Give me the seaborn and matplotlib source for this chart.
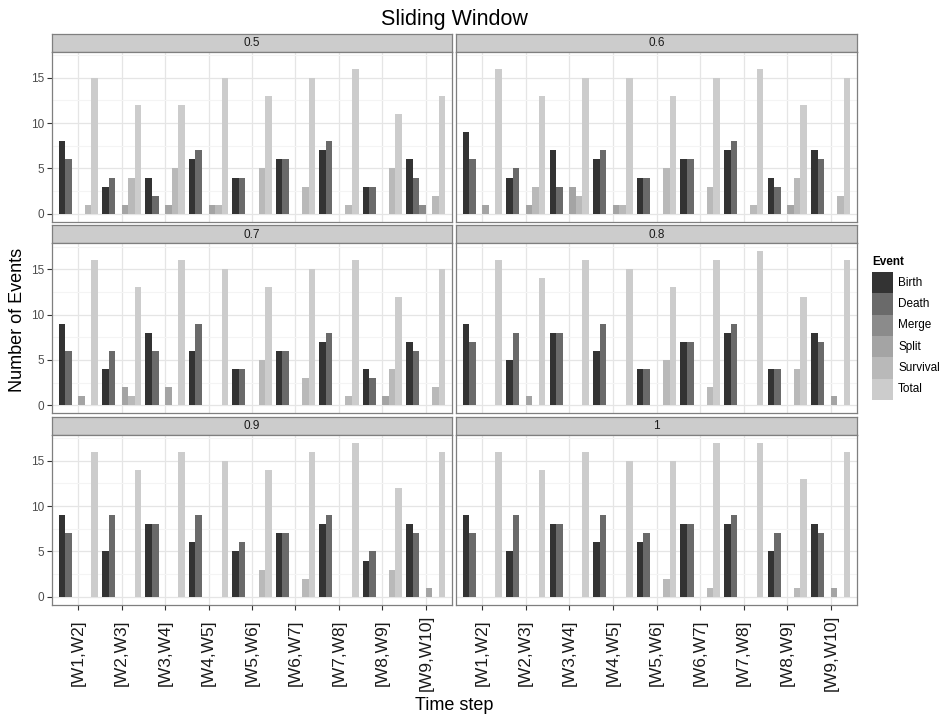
import matplotlib
matplotlib.use("Agg")
import matplotlib.pyplot as plt
from matplotlib.patches import Rectangle
from matplotlib.ticker import MultipleLocator
import numpy as np
import pandas as pd
import seaborn as sns

# ---- data -------------------------------------------------------------
thresholds = ["0.5", "0.6", "0.7", "0.8", "0.9", "1"]
windows = ["[W1,W2]", "[W2,W3]", "[W3,W4]", "[W4,W5]", "[W5,W6]",
           "[W6,W7]", "[W7,W8]", "[W8,W9]", "[W9,W10]"]
events = ["Birth", "Death", "Merge", "Split", "Survival", "Total"]

# one row per threshold, one column per time step
birth = [
    [8, 3, 4, 6, 4, 6, 7, 3, 6],
    [9, 4, 7, 6, 4, 6, 7, 4, 7],
    [9, 4, 8, 6, 4, 6, 7, 4, 7],
    [9, 5, 8, 6, 4, 7, 8, 4, 8],
    [9, 5, 8, 6, 5, 7, 8, 4, 8],
    [9, 5, 8, 6, 6, 8, 8, 5, 8],
]
death = [
    [6, 4, 2, 7, 4, 6, 8, 3, 4],
    [6, 5, 3, 7, 4, 6, 8, 3, 6],
    [6, 6, 6, 9, 4, 6, 8, 3, 6],
    [7, 8, 8, 9, 4, 7, 9, 4, 7],
    [7, 9, 8, 9, 6, 7, 9, 5, 7],
    [7, 9, 8, 9, 7, 8, 9, 7, 7],
]
merge = [
    [0, 0, 0, 0, 0, 0, 0, 0, 1],
    [0, 0, 0, 0, 0, 0, 0, 0, 0],
    [0, 0, 0, 0, 0, 0, 0, 0, 0],
    [0, 0, 0, 0, 0, 0, 0, 0, 0],
    [0, 0, 0, 0, 0, 0, 0, 0, 0],
    [0, 0, 0, 0, 0, 0, 0, 0, 0],
]
split = [
    [0, 1, 1, 1, 0, 0, 0, 0, 0],
    [1, 1, 3, 1, 0, 0, 0, 1, 0],
    [1, 2, 2, 0, 0, 0, 0, 1, 0],
    [0, 1, 0, 0, 0, 0, 0, 0, 1],
    [0, 0, 0, 0, 0, 0, 0, 0, 1],
    [0, 0, 0, 0, 0, 0, 0, 0, 1],
]
survival = [
    [1, 4, 5, 1, 5, 3, 1, 5, 2],
    [0, 3, 2, 1, 5, 3, 1, 4, 2],
    [0, 1, 0, 0, 5, 3, 1, 4, 2],
    [0, 0, 0, 0, 5, 2, 0, 4, 0],
    [0, 0, 0, 0, 3, 2, 0, 3, 0],
    [0, 0, 0, 0, 2, 1, 0, 1, 0],
]
total = [
    [15, 12, 12, 15, 13, 15, 16, 11, 13],
    [16, 13, 15, 15, 13, 15, 16, 12, 15],
    [16, 13, 16, 15, 13, 15, 16, 12, 15],
    [16, 14, 16, 15, 13, 16, 17, 12, 16],
    [16, 14, 16, 15, 14, 16, 17, 12, 16],
    [16, 14, 16, 15, 15, 17, 17, 13, 16],
]

# grey fill scale, dark to light
greys = ["#333333", "#6a6a6a", "#8b8b8b", "#a4a4a4", "#b9b9b9", "#cccccc"]

# ---- long table -------------------------------------------------------
series = dict(zip(events, [birth, death, merge, split, survival, total]))
rows = []
for ti, th in enumerate(thresholds):
    for ev in events:
        for wi, w in enumerate(windows):
            rows.append({"Threshold": th, "Time step": w, "Event": ev,
                         "Number of Events": series[ev][ti][wi]})
df = pd.DataFrame(rows)

# ---- figure -----------------------------------------------------------
sns.set_style("white")
plt.rcParams["font.family"] = ["Liberation Sans", "DejaVu Sans"]

W, H = 946, 722
fig = plt.figure(figsize=(W / 100, H / 100), dpi=100)

def fig_rect(x0, y0, x1, y1):
    return [x0 / W, 1 - y1 / H, (x1 - x0) / W, (y1 - y0) / H]

col_x = [(52, 452), (456, 857)]
row_strip_top = [33.5, 225.0, 416.5]
strip_h = 18.5
panel_h = 169.5
border = "#7f7f7f"

for idx, th in enumerate(thresholds):
    r, c = divmod(idx, 2)
    x0, x1 = col_x[c]
    st = row_strip_top[r]
    # facet strip
    sax = fig.add_axes(fig_rect(x0, st, x1, st + strip_h))
    sax.set_facecolor("#cccccc")
    sax.set_xticks([]); sax.set_yticks([])
    for sp in sax.spines.values():
        sp.set_color(border); sp.set_linewidth(0.9)
    sax.text(0.5, 0.48, th, ha="center", va="center", fontsize=8.5,
             color="#1a1a1a", transform=sax.transAxes)

    # facet panel
    ax = fig.add_axes(fig_rect(x0, st + strip_h, x1, st + strip_h + panel_h))
    sub = df[df["Threshold"] == th]
    sns.barplot(data=sub, x="Time step", y="Number of Events", hue="Event",
                order=windows, hue_order=events, palette=greys,
                width=0.9, saturation=1, errorbar=None, legend=False,
                linewidth=0, ax=ax)
    ax.set_xlim(-0.6, 8.6)
    ax.set_ylim(-0.85, 17.85)
    ax.set_axisbelow(True)
    ax.yaxis.set_major_locator(MultipleLocator(5))
    ax.yaxis.set_minor_locator(MultipleLocator(2.5))
    ax.set_xticks(range(len(windows)))
    ax.grid(which="major", color="#e5e5e5", linewidth=0.9)
    ax.grid(which="minor", axis="y", color="#f4f4f4", linewidth=0.8)
    for sp in ax.spines.values():
        sp.set_visible(True); sp.set_color(border); sp.set_linewidth(0.9)
    ax.set_xlabel(""); ax.set_ylabel("")
    ax.tick_params(which="minor", length=0)
    ax.tick_params(axis="both", which="major", length=3.5, width=0.8,
                   color="#333333", direction="out")
    if c == 0:
        ax.set_yticks([0, 5, 10, 15])
        ax.set_yticklabels(["0", "5", "10", "15"], fontsize=8.5, color="#4d4d4d")
        ax.tick_params(axis="y", left=True, pad=2)
    else:
        ax.tick_params(axis="y", left=False, labelleft=False)
    if r == 2:
        ax.set_xticklabels(windows, rotation=90, fontsize=12.5, color="#1a1a1a")
        for lab in ax.get_xticklabels():
            lab.set_verticalalignment("center")
        ax.tick_params(axis="x", bottom=True, pad=31)
    else:
        ax.tick_params(axis="x", bottom=False, labelbottom=False)

# titles
fig.text(454.5 / W, 1 - 20 / H, "Sliding Window", ha="center", va="center",
         fontsize=15.5, color="black")
fig.text(454.5 / W, 1 - 706 / H, "Time step", ha="center", va="center",
         fontsize=13, color="black")
fig.text(18 / W, 1 - 320 / H, "Number of Events", ha="center", va="center",
         rotation=90, fontsize=13, color="black")

# legend: title, colour keys and labels
fig.text(872 / W, 1 - 262 / H, "Event", ha="left", va="center",
         fontsize=8.5, fontweight="bold", color="black")
key_top, key_h, key_x0, key_w = 272.0, 21.3, 872.0, 21.0
for i, (ev, g) in enumerate(zip(events, greys)):
    y_top = key_top + i * key_h
    fig.patches.append(Rectangle((key_x0 / W, 1 - (y_top + key_h) / H),
                                 key_w / W, key_h / H, facecolor=g,
                                 edgecolor="none", transform=fig.transFigure,
                                 figure=fig))
    fig.text((key_x0 + key_w + 5) / W, 1 - (y_top + key_h / 2) / H, ev,
             ha="left", va="center", fontsize=8.5, color="black")

fig.savefig("out.png", dpi=100)
